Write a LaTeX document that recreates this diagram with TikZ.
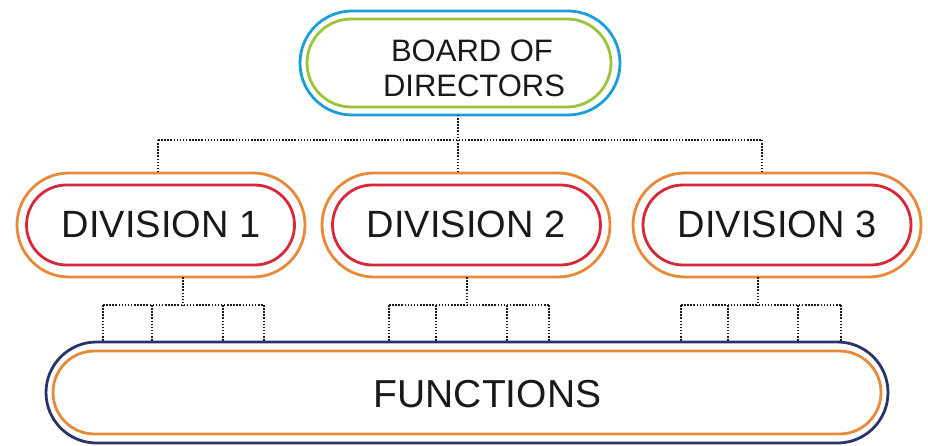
\documentclass[tikz,border=0pt]{standalone}
\usepackage{fontspec}
\setmainfont{Liberation Sans}
\definecolor{blueB}{RGB}{27,157,215}
\definecolor{greenB}{RGB}{155,196,60}
\definecolor{orangeB}{RGB}{232,137,58}
\definecolor{redB}{RGB}{214,40,57}
\definecolor{navyB}{RGB}{43,52,105}
\definecolor{txt}{RGB}{25,25,25}
\begin{document}
\begin{tikzpicture}[x=1pt,y=-1pt,
  pill/.style={draw, rectangle, inner sep=0pt, outer sep=0pt, line width=2.8pt},
  lbl/.style={inner sep=0pt, anchor=base, text=txt},
  conn/.style={line width=1.6pt, dash pattern=on 1.5pt off 1.6pt, black!90}]
\useasboundingbox (0,0) rectangle (928,446);
% board
\node[pill, draw=blueB, minimum width=320pt, minimum height=104pt, rounded corners=52pt] (board) at (460,63) {};
\node[pill, draw=greenB, minimum width=304pt, minimum height=88pt, rounded corners=44pt] (boardin) at (459,63) {};
\node[lbl, font=\fontsize{31}{34}\selectfont] (bt1) at (472,62) {BOARD OF};
\node[lbl, font=\fontsize{31}{34}\selectfont] (bt2) at (474,97) {DIRECTORS};
% divisions
\foreach \n/\cx/\ix in {1/161/160.5, 2/466/466.5, 3/777/777}{
  \node[pill, draw=orangeB, minimum width=288pt, minimum height=104pt, rounded corners=52pt] (div\n) at (\cx,225) {};
  \node[pill, draw=redB, minimum width=268pt, minimum height=80pt, rounded corners=40pt] (divin\n) at (\ix,225) {};
  \node[lbl, font=\fontsize{38}{40}\selectfont] (dt\n) at (\cx,238) {DIVISION \n};
}
% functions
\node[pill, draw=navyB, minimum width=842pt, minimum height=101pt, rounded corners=50.5pt] (functions) at (467,392.5) {};
\node[pill, draw=orangeB, minimum width=828pt, minimum height=83pt, rounded corners=41.5pt] (functionsin) at (467,392.5) {};
\node[lbl, font=\fontsize{39}{40}\selectfont] (ft) at (487.5,407) {FUNCTIONS};
% top connectors
\coordinate (bj) at (458,140);
\coordinate (t1) at (158,140);
\coordinate (t3) at (762,140);
\draw[conn] (board.south -| bj) -- (bj);
\draw[conn] (t1) -- (t3);
\draw[conn] (t1) -- (t1 |- div1.north);
\draw[conn] (bj) -- (bj |- div2.north);
\draw[conn] (t3) -- (t3 |- div3.north);
% lower connectors
\foreach \n/\c/\a/\b/\cc/\d in {1/183/103/152/223/264, 2/467/389/436/507/549, 3/758/681/728/798/841}{
  \coordinate (m\n) at (\c,305);
  \coordinate (ma\n) at (\a,305);
  \coordinate (md\n) at (\d,305);
  \draw[conn] (div\n.south -| m\n) -- (m\n);
  \draw[conn] (ma\n) -- (md\n);
  \foreach \x in {\a,\b,\cc,\d}{
    \coordinate (p) at (\x,305);
    \draw[conn] (p) -- (p |- functions.north);
  }
}
\end{tikzpicture}
\end{document}
